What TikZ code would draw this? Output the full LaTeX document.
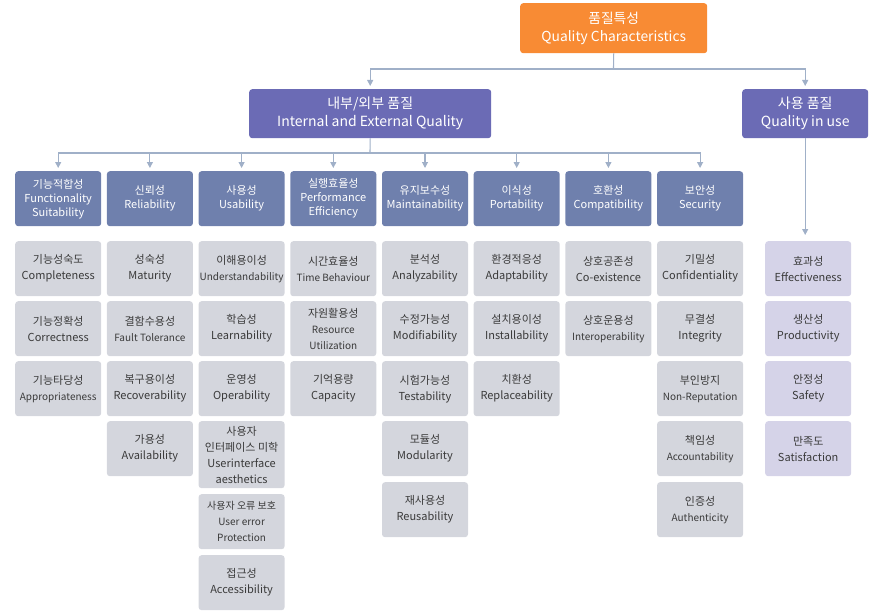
\documentclass[tikz,border=0pt]{standalone}
\usepackage{fontspec}
\setmainfont{Noto Sans CJK KR}
\usetikzlibrary{arrows.meta}
\definecolor{qorange}{HTML}{F88B34}
\definecolor{qpurple}{HTML}{6B6BB5}
\definecolor{qcat}{HTML}{6F80AD}
\definecolor{qsub}{HTML}{D4D6DD}
\definecolor{quse}{HTML}{D5D3E8}
\definecolor{qline}{HTML}{A0B0C8}
\definecolor{qtext}{HTML}{3A3A3A}
\newcommand\bx[6]{\node[#1,minimum width=#4pt,minimum height=#5pt] (#2) at (#3) {#6};}
\tikzset{
  base/.style={rounded corners=3pt, align=center, inner sep=0pt, anchor=north west},
  topbox/.style={base, fill=qorange, text=white, font=\fontsize{13.8}{18}\selectfont},
  midbox/.style={base, fill=qpurple, text=white, font=\fontsize{14}{18}\selectfont},
  catbox/.style={base, fill=qcat, text=white, font=\fontsize{11}{14}\selectfont},
  subbox/.style={base, fill=qsub, text=qtext, font=\fontsize{11}{16}\selectfont},
  usebox/.style={base, fill=quse, text=qtext, font=\fontsize{11}{16}\selectfont},
  conn/.style={draw=qline, line width=1.1pt},
  arr/.style={conn, -{Triangle[width=6pt,length=6pt]}, shorten >=3pt},
}
\newcommand\sm[1]{{\fontsize{10}{14}\selectfont #1}}
\begin{document}
\begin{tikzpicture}[x=1pt,y=-1pt]
\useasboundingbox (0,0) rectangle (886,615);
% top level
\bx{topbox}{qc}{520,3}{187}{50}{품질특성\\Quality Characteristics}
\bx{midbox}{int}{249,89}{242}{49}{내부/외부 품질\\Internal and External Quality}
\bx{midbox}{use}{742,89}{126}{49}{사용 품질\\Quality in use}
% categories
\bx{catbox}{c1}{15,171}{86}{55}{기능적합성\\Functionality\\Suitability}
\bx{catbox}{c2}{106.7,171}{86}{55}{신뢰성\\Reliability}
\bx{catbox}{c3}{198.4,171}{86}{55}{사용성\\Usability}
\bx{catbox}{c4}{290.1,171}{86}{55}{실행효율성\\Performance\\Efficiency}
\bx{catbox}{c5}{381.8,171}{86}{55}{유지보수성\\Maintainability}
\bx{catbox}{c6}{473.5,171}{86}{55}{이식성\\Portability}
\bx{catbox}{c7}{565.2,171}{86}{55}{호환성\\Compatibility}
\bx{catbox}{c8}{656.9,171}{86}{55}{보안성\\Security}
% column 1
\bx{subbox}{s11}{15,241}{86}{55}{기능성숙도\\Completeness}
\bx{subbox}{s12}{15,301}{86}{55}{기능정확성\\Correctness}
\bx{subbox}{s13}{15,361}{86}{55}{기능타당성\\\sm{Appropriateness}}
% column 2
\bx{subbox}{s21}{106.7,241}{86}{55}{성숙성\\Maturity}
\bx{subbox}{s22}{106.7,301}{86}{55}{결함수용성\\\sm{Fault Tolerance}}
\bx{subbox}{s23}{106.7,361}{86}{55}{복구용이성\\Recoverability}
\bx{subbox}{s24}{106.7,421}{86}{55}{가용성\\Availability}
% column 3
\bx{subbox}{s31}{198.4,241}{86}{55}{이해용이성\\\sm{Understandability}}
\bx{subbox}{s32}{198.4,301}{86}{55}{학습성\\Learnability}
\bx{subbox}{s33}{198.4,361}{86}{55}{운영성\\Operability}
\bx{subbox}{s34}{198.4,421}{86}{67}{\fontsize{11}{14}\selectfont 사용자\\인터페이스 미학\\Userinterface\\aesthetics}
\bx{subbox}{s35}{198.4,494}{86}{55}{\fontsize{10}{14}\selectfont 사용자 오류 보호\\\sm{User error}\\\sm{Protection}}
\bx{subbox}{s36}{198.4,555}{86}{55}{접근성\\Accessibility}
% column 4
\bx{subbox}{s41}{290.1,241}{86}{55}{시간효율성\\\sm{Time Behaviour}}
\bx{subbox}{s42}{290.1,301}{86}{55}{\fontsize{11}{14}\selectfont 자원활용성\\\sm{Resource}\\\sm{Utilization}}
\bx{subbox}{s43}{290.1,361}{86}{55}{기억용량\\Capacity}
% column 5
\bx{subbox}{s51}{381.8,241}{86}{55}{분석성\\Analyzability}
\bx{subbox}{s52}{381.8,301}{86}{55}{수정가능성\\Modifiability}
\bx{subbox}{s53}{381.8,361}{86}{55}{시험가능성\\Testability}
\bx{subbox}{s54}{381.8,421}{86}{55}{모듈성\\Modularity}
\bx{subbox}{s55}{381.8,482}{86}{55}{재사용성\\Reusability}
% column 6
\bx{subbox}{s61}{473.5,241}{86}{55}{환경적응성\\Adaptability}
\bx{subbox}{s62}{473.5,301}{86}{55}{설치용이성\\Installability}
\bx{subbox}{s63}{473.5,361}{86}{55}{치환성\\Replaceability}
% column 7
\bx{subbox}{s71}{565.2,241}{86}{55}{상호공존성\\Co-existence}
\bx{subbox}{s72}{565.2,301}{86}{55}{상호운용성\\\sm{Interoperability}}
% column 8
\bx{subbox}{s81}{656.9,241}{86}{55}{기밀성\\Confidentiality}
\bx{subbox}{s82}{656.9,301}{86}{55}{무결성\\Integrity}
\bx{subbox}{s83}{656.9,361}{86}{55}{부인방지\\\sm{Non-Reputation}}
\bx{subbox}{s84}{656.9,421}{86}{55}{책임성\\\sm{Accountability}}
\bx{subbox}{s85}{656.9,482}{86}{55}{인증성\\\sm{Authenticity}}
% quality in use
\bx{usebox}{u1}{765,241}{86}{55}{효과성\\Effectiveness}
\bx{usebox}{u2}{765,301}{86}{55}{생산성\\Productivity}
\bx{usebox}{u3}{765,361}{86}{55}{안정성\\Safety}
\bx{usebox}{u4}{765,421}{86}{55}{만족도\\Satisfaction}
% connectors
\coordinate (j1) at (613.5,69);
\coordinate (j2) at (370,153);
\draw[conn] (qc.south) -- (j1);
\draw[arr] (j1) -| (int.north);
\draw[arr] (j1) -| (use.north);
\draw[conn] (int.south) -- (j2);
\foreach \c in {c1,c2,c3,c4,c5,c6,c7,c8}{
  \draw[arr] (j2) -| (\c.north);
}
\draw[arr, shorten >=6pt] (use.south) -- (use.south |- u1.north);
\end{tikzpicture}
\end{document}
